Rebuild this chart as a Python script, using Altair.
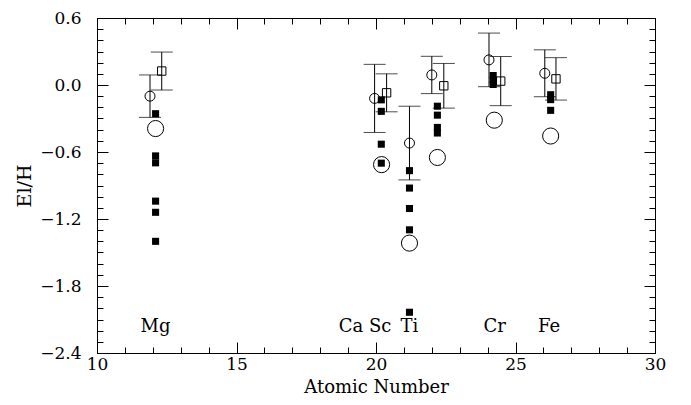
import altair as alt
import pandas as pd

# ---- tick values ----
x_major = [10, 15, 20, 25, 30]
x_minor = [10, 11, 12, 13, 14, 15, 16, 17, 18, 19, 20, 21, 22, 23, 24, 25, 26, 27, 28, 29, 30]
y_major = [-2.4, -1.8, -1.2, -0.6, 0.0, 0.6]
y_minor = [-2.4, -2.3, -2.2, -2.1, -2.0, -1.9, -1.8, -1.7, -1.6, -1.5, -1.4, -1.3, -1.2, -1.1,
           -1.0, -0.9, -0.8, -0.7, -0.6, -0.5, -0.4, -0.3, -0.2, -0.1, 0.0, 0.1, 0.2, 0.3, 0.4, 0.5, 0.6]

# ---- small open circles with error bars ----
circ_z = [11.9, 19.95, 21.2, 22.0, 24.05, 26.05]
circ_val = [-0.10, -0.12, -0.52, 0.09, 0.225, 0.105]
circ_err = [0.19, 0.305, 0.33, 0.167, 0.24, 0.21]

# ---- open squares with error bars ----
sq_z = [12.32, 20.38, 22.43, 24.47, 26.45]
sq_val = [0.125, -0.07, -0.007, 0.035, 0.055]
sq_err = [0.17, 0.17, 0.20, 0.22, 0.19]

# ---- filled squares ----
fill_z = [12.1, 12.1, 12.1, 12.1, 12.1, 12.1,
          20.19, 20.19, 20.19, 20.19,
          21.2, 21.2, 21.2, 21.2, 21.2,
          22.2, 22.2, 22.2, 22.2,
          24.2, 24.2, 24.2,
          26.26, 26.26, 26.26]
fill_val = [-0.257, -0.635, -0.697, -1.04, -1.14, -1.40,
            -0.133, -0.236, -0.53, -0.70,
            -0.767, -0.923, -1.106, -1.297, -2.035,
            -0.19, -0.27, -0.38, -0.43,
            0.085, 0.045, 0.005,
            -0.087, -0.131, -0.227]

# ---- large open circles ----
big_z = [12.1, 20.2, 21.2, 22.2, 24.24, 26.26]
big_val = [-0.39, -0.713, -1.416, -0.649, -0.315, -0.457]

# ---- element labels ----
el_names = ["Mg", "Ca", "Sc", "Ti", "Cr", "Fe"]
el_x = [12.1, 19.1, 20.15, 21.2, 24.25, 26.2]
el_y = [-2.17, -2.17, -2.17, -2.17, -2.17, -2.17]

FONT = "DejaVu Serif"

circ_df = pd.DataFrame({"x": circ_z, "v": circ_val, "e": circ_err})
circ_df["lo"] = circ_df["v"] - circ_df["e"]
circ_df["hi"] = circ_df["v"] + circ_df["e"]
sq_df = pd.DataFrame({"x": sq_z, "v": sq_val, "e": sq_err})
sq_df["lo"] = sq_df["v"] - sq_df["e"]
sq_df["hi"] = sq_df["v"] + sq_df["e"]
err_df = pd.concat([circ_df, sq_df], ignore_index=True)
caps_df = pd.concat([err_df[["x", "lo"]].rename(columns={"lo": "y"}),
                     err_df[["x", "hi"]].rename(columns={"hi": "y"})], ignore_index=True)
fill_df = pd.DataFrame({"x": fill_z, "v": fill_val})
big_df = pd.DataFrame({"x": big_z, "v": big_val})
lab_df = pd.DataFrame({"x": el_x, "v": el_y, "t": el_names})

XS = alt.Scale(domain=[10, 30], nice=False, zero=False)
YS = alt.Scale(domain=[-2.4, 0.6], nice=False, zero=False)
MAJ = 11
MIN = 6
W, H = 558, 335


def xaxis(orient, values, size, labels):
    kw = dict(orient=orient, values=values, offset=-size, tickSize=size, domain=False,
              grid=False, labels=labels, tickColor="black", tickWidth=1)
    if labels:
        kw.update(format="d", labelFont=FONT, labelFontSize=17, labelColor="black",
                  labelPadding=3, labelFlush=False,
                  title="Atomic Number", titleFont=FONT, titleFontSize=18,
                  titleFontWeight="normal", titleColor="black",
                  titleBaseline="alphabetic", titleY=50, titleX=W / 2)
    else:
        kw.update(title=None)
    return alt.Axis(**kw)


def yaxis(orient, values, size, labels):
    kw = dict(orient=orient, values=values, offset=-size, tickSize=size, domain=False,
              grid=False, labels=labels, tickColor="black", tickWidth=1)
    if labels:
        kw.update(format=".1f", labelFont=FONT, labelFontSize=17, labelColor="black",
                  labelPadding=16, labelFlush=False,
                  title="El/H", titleFont=FONT, titleFontSize=19,
                  titleFontWeight="normal", titleColor="black", titlePadding=5)
    else:
        kw.update(title=None)
    return alt.Axis(**kw)


rules = alt.Chart(err_df).mark_rule(color="black", strokeWidth=1).encode(
    x=alt.X("x:Q", scale=XS, axis=xaxis("bottom", x_major, MAJ, True)),
    y=alt.Y("lo:Q", scale=YS, axis=yaxis("left", y_major, MAJ, True)),
    y2="hi:Q",
)
caps = alt.Chart(caps_df).mark_tick(color="black", orient="horizontal", size=22, thickness=1).encode(
    x=alt.X("x:Q", scale=XS, axis=xaxis("top", x_major, MAJ, False)),
    y=alt.Y("y:Q", scale=YS, axis=yaxis("right", y_major, MAJ, False)),
)
filled = alt.Chart(fill_df).mark_square(color="black", size=50, opacity=1).encode(
    x=alt.X("x:Q", scale=XS, axis=xaxis("bottom", x_minor, MIN, False)),
    y=alt.Y("v:Q", scale=YS, axis=yaxis("left", y_minor, MIN, False)),
)
bigc = alt.Chart(big_df).mark_point(shape="circle", filled=False, color="black", size=260,
                                    strokeWidth=1, opacity=1).encode(
    x=alt.X("x:Q", scale=XS, axis=xaxis("top", x_minor, MIN, False)),
    y=alt.Y("v:Q", scale=YS, axis=yaxis("right", y_minor, MIN, False)),
)
smallc = alt.Chart(circ_df).mark_point(shape="circle", filled=False, color="black", size=100,
                                       strokeWidth=1, opacity=1).encode(
    x=alt.X("x:Q", scale=XS, axis=None),
    y=alt.Y("v:Q", scale=YS, axis=None),
)
opensq = alt.Chart(sq_df).mark_point(shape="square", filled=False, color="black", size=70,
                                     strokeWidth=1, opacity=1).encode(
    x=alt.X("x:Q", scale=XS, axis=None),
    y=alt.Y("v:Q", scale=YS, axis=None),
)
labels = alt.Chart(lab_df).mark_text(font=FONT, fontSize=18, color="black", align="center",
                                     baseline="middle").encode(
    x=alt.X("x:Q", scale=XS, axis=None),
    y=alt.Y("v:Q", scale=YS, axis=None),
    text="t:N",
)

chart = alt.layer(rules, caps, filled, bigc, smallc, opensq, labels).resolve_axis(
    x="independent", y="independent"
).properties(
    width=W, height=H,
    padding={"left": 89, "top": 10, "right": 28, "bottom": 44},
    autosize=alt.AutoSizeParams(type="none"),
    background="white",
).configure_view(stroke="black", strokeWidth=1)

chart.save("out.html", embed_options={"renderer": "svg", "actions": False})
